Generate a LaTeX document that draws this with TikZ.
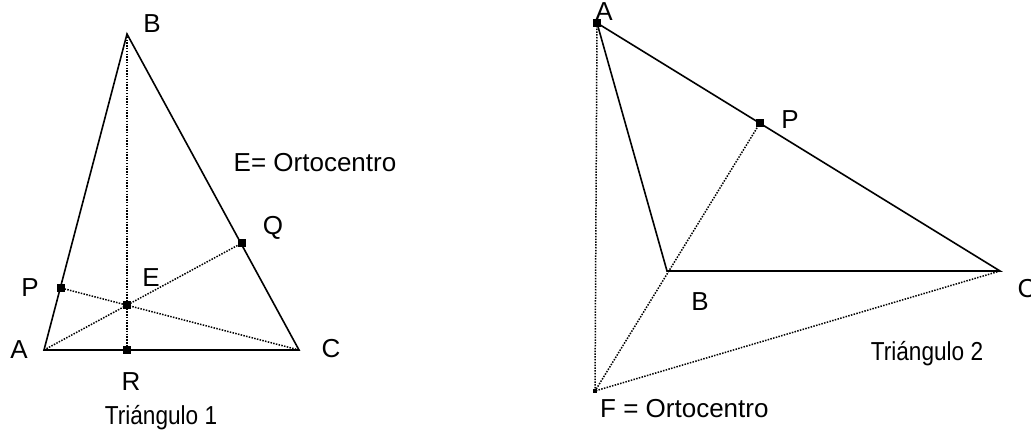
\documentclass[tikz,border=0pt]{standalone}
\usepackage{fontspec}
\usepackage{graphicx}
\setmainfont{Liberation Sans}
\begin{document}
\begin{tikzpicture}[x=1pt,y=-1pt,
  side/.style={line width=1.6pt},
  alt/.style={line width=1.5pt, dash pattern=on 1.5pt off 1.3pt},
  sq/.style={rectangle, fill=black, inner sep=0pt, minimum size=8pt},
  sqs/.style={rectangle, fill=black, inner sep=0pt, minimum size=4.5pt},
  lab/.style={font=\fontsize{26}{28}\selectfont, inner sep=0pt},
  titlelab/.style={font=\fontsize{26}{28}\selectfont, inner sep=0pt}]
\useasboundingbox (0,0) rectangle (1031,441);
% Triangle 1
\coordinate (A1) at (44,350);
\coordinate (B1) at (127,34);
\coordinate (C1) at (299,350);
\node[sq] (R1) at (127,350) {};
\node[sq] (E1) at (127,305) {};
\node[sq] (P1) at (61,288) {};
\node[sq] (Q1) at (242,243) {};
\draw[side] (A1) -- (B1) -- (C1) -- cycle;
\draw[alt] (B1) -- (R1.center);
\draw[alt] (A1) -- (Q1.center);
\draw[alt] (C1) -- (P1.center);
\node[lab] (lB1) at (152,24) {B};
\node[lab] (lA1) at (19,350) {A};
\node[lab] (lC1) at (331,349) {C};
\node[lab] (lR1) at (131,382) {R};
\node[lab] (lP1) at (30,288) {P};
\node[lab] (lE1) at (151,278) {E};
\node[lab] (lQ1) at (273,228) {Q};
\node[lab] (lO1) at (315,163) {E= Ortocentro};
\node[titlelab] (t1) at (161,418) {\scalebox{0.87}[1]{Triángulo 1}};
% Triangle 2
\node[sq] (A2) at (597,23) {};
\node[sq] (P2) at (760,123) {};
\coordinate (B2) at (667,271);
\coordinate (C2) at (1000,271);
\node[sqs] (F2) at (595,391) {};
\draw[side] (A2.center) -- (C2) -- (B2) -- cycle;
\draw[alt] (A2.center) -- (F2.center);
\draw[alt] (P2.center) -- (F2.center);
\draw[alt] (C2) -- (F2.center);
\node[lab] (lA2) at (604,12) {A};
\node[lab] (lP2) at (790,120) {P};
\node[lab] (lB2) at (700,302) {B};
\node[lab] (lC2) at (1027,289) {C};
\node[lab, anchor=west] (lF2) at (600,409) {F = Ortocentro};
\node[titlelab] (t2) at (927,354) {\scalebox{0.87}[1]{Triángulo 2}};
\end{tikzpicture}
\end{document}
